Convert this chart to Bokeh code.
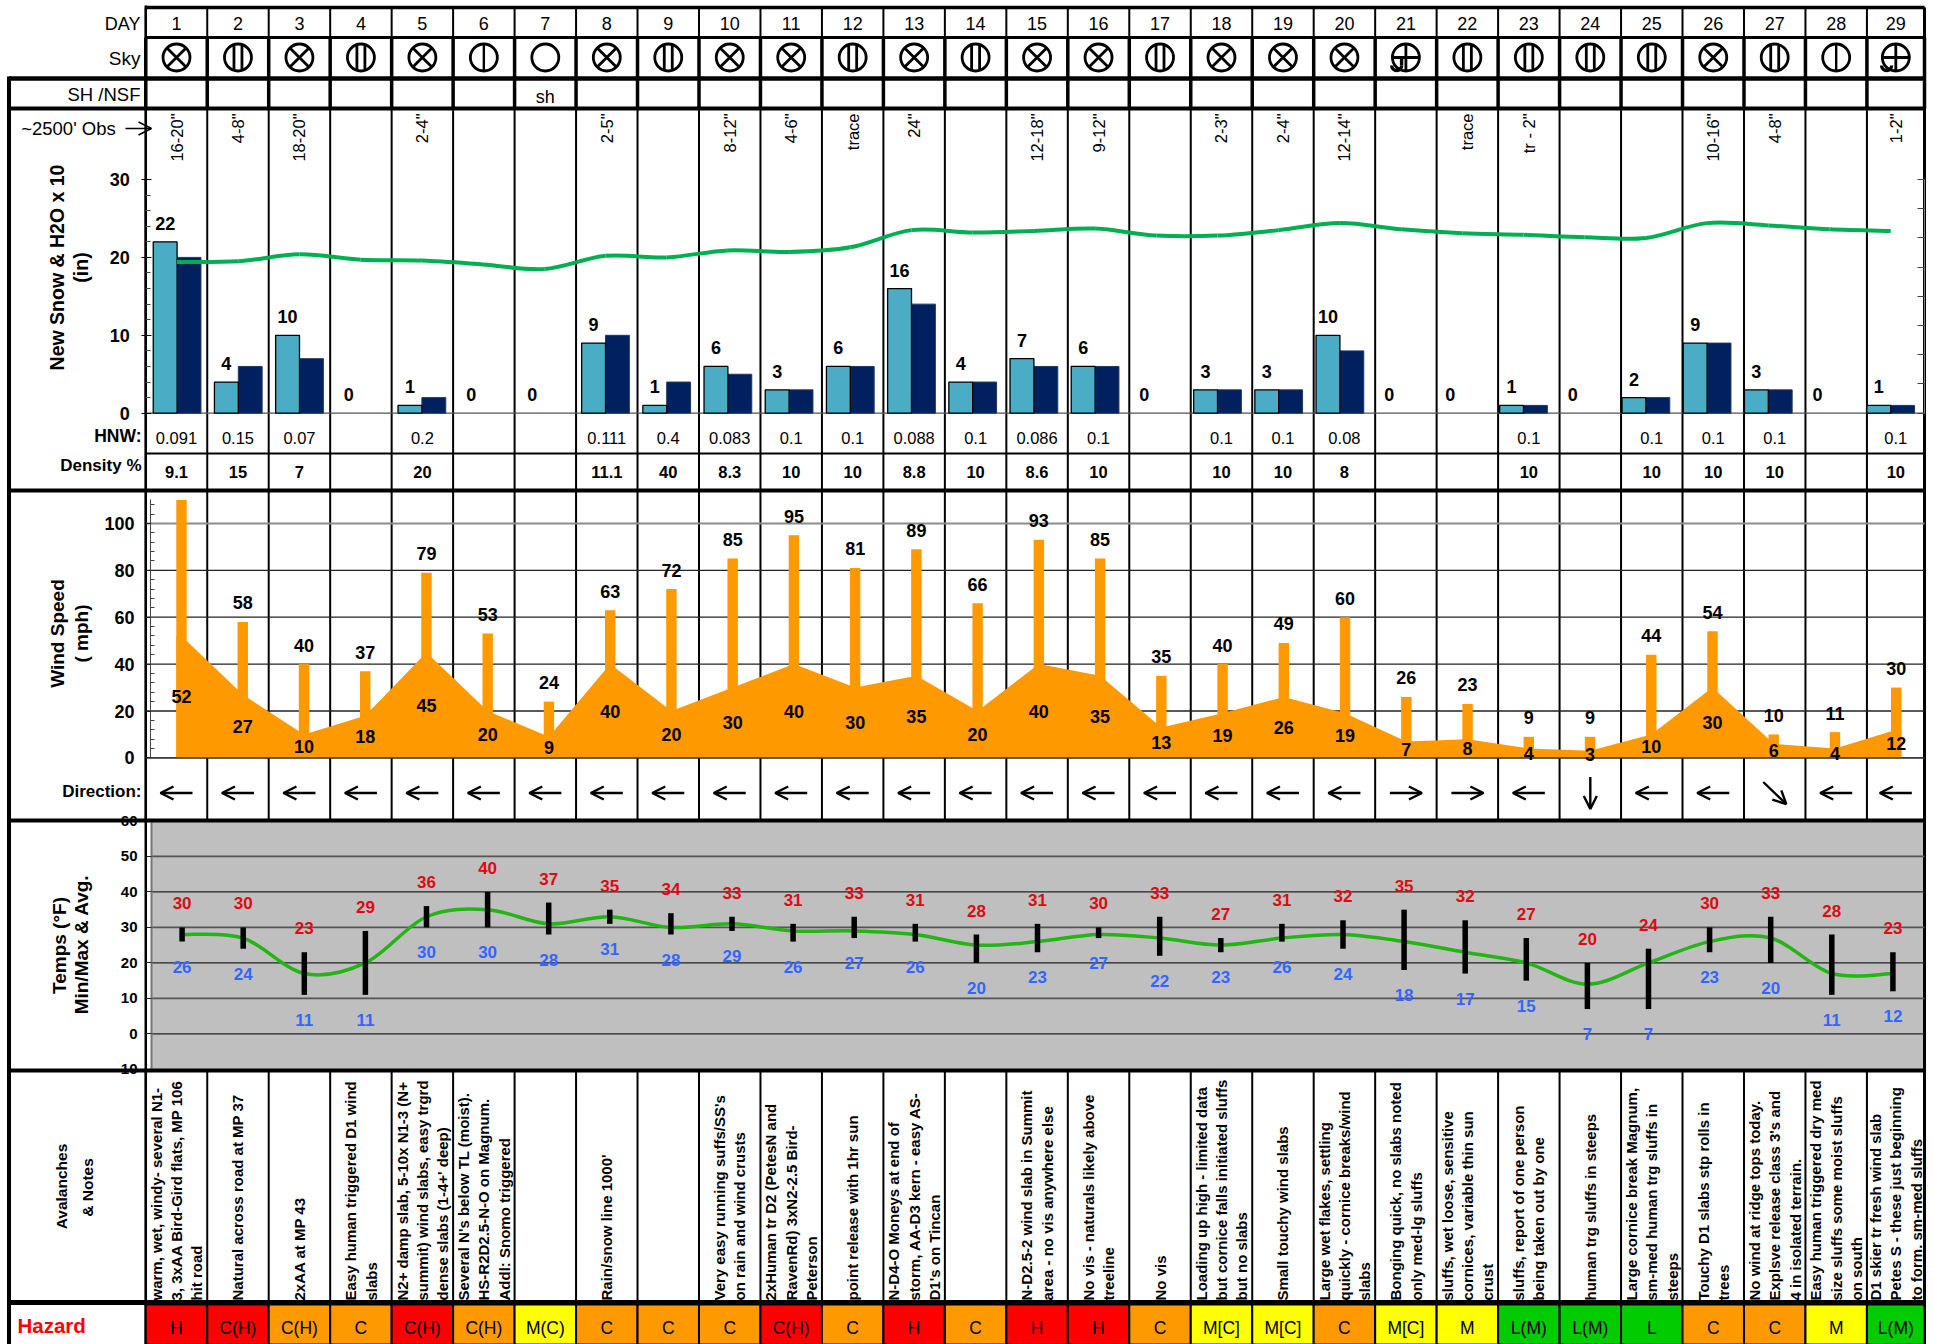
import numpy as np
from bokeh.plotting import figure
from bokeh.embed import file_html
from bokeh.resources import INLINE
from bokeh.core.properties import value
from bokeh.models import Range1d, LinearAxis, FixedTicker, Arrow, OpenHead, ColumnDataSource

# ---------- data ----------
day_numbers = list(range(1, 30))
sky_cover = ["X","III","X","III","X","I","O","X","III","X","X","III","X","III","X","X","III","X","X","X",
             "+","III","III","III","III","X","III","I","+"]
sh_nsf = {7: "sh"}
obs_2500 = {1:'16-20"',2:'4-8"',3:'18-20"',5:'2-4"',8:'2-5"',10:'8-12"',11:'4-6"',12:'trace',13:'24"',
            15:'12-18"',16:'9-12"',18:'2-3"',19:'2-4"',20:'12-14"',22:'trace',23:'tr - 2"',26:'10-16"',27:'4-8"',29:'1-2"'}
new_snow = [22,4,10,0,1,0,0,9,1,6,3,6,16,4,7,6,0,3,3,10,0,0,1,0,2,9,3,0,1]
h2o_x10  = [20,6,7,0,2,0,0,10,4,5,3,6,14,4,6,6,0,3,3,8,0,0,1,0,2,9,3,0,1]
snow_depth_line = [19.4,19.5,20.4,19.7,19.6,19.1,18.5,20.2,20.0,20.9,20.7,21.3,23.5,23.2,23.4,23.7,22.8,22.8,
                   23.5,24.4,23.6,23.1,22.9,22.6,22.5,24.4,24.1,23.6,23.4]
hnw = ["0.091","0.15","0.07","","0.2","","","0.111","0.4","0.083","0.1","0.1","0.088","0.1","0.086","0.1","",
       "0.1","0.1","0.08","","","0.1","","0.1","0.1","0.1","","0.1"]
density = ["9.1","15","7","","20","","","11.1","40","8.3","10","10","8.8","10","8.6","10","",
           "10","10","8","","","10","","10","10","10","","10"]
wind_gust = [110,58,40,37,79,53,24,63,72,85,95,81,89,66,93,85,35,40,49,60,26,23,9,9,44,54,10,11,30]
wind_avg  = [52,27,10,18,45,20,9,40,20,30,40,30,35,20,40,35,13,19,26,19,7,8,4,3,10,30,6,4,12]
wind_dir = ["W"]*20 + ["E","E","W","S","W","W","SE","W","W"]
temp_max = [30,30,23,29,36,40,37,35,34,33,31,33,31,28,31,30,33,27,31,32,35,32,27,20,24,30,33,28,23]
temp_min = [26,24,11,11,30,30,28,31,28,29,26,27,26,20,23,27,22,23,26,24,18,17,15,7,7,23,20,11,12]
temp_avg = [28,27,17,20,33,35,31,33,30,31,29,29,28,25,26,28,27,25,27,28,26,23,20,14,20,26,27,17,17]
notes = [
 ["warm, wet, windy- several N1-","3, 3xAA Bird-Gird flats, MP 106","hit road"],
 ["Natural across road at MP 37"],
 ["2xAA at MP 43"],
 ["Easy human triggered D1 wind","slabs"],
 ["N2+ damp slab, 5-10x N1-3 (N+","summit) wind slabs, easy trgrd","dense slabs (1-4+' deep)"],
 ["Several N's below TL (moist).","HS-R2D2.5-N-O on Magnum.","Addl: Snomo triggered"],
 [],
 ["Rain/snow line 1000'"],
 [],
 ["Very easy running suffs/SS's","on rain and wind crusts"],
 ["2xHuman tr D2 (PetesN and","RavenRd) 3xN2-2.5 Bird-","Peterson"],
 ["point release with 1hr sun"],
 ["N-D4-O Moneys at end of","storm, AA-D3 kern - easy AS-","D1's on Tincan"],
 [],
 ["N-D2.5-2 wind slab in Summit","area - no vis anywhere else"],
 ["No vis - naturals likely above","treeline"],
 ["No vis"],
 ["Loading up high - limited data","but cornice falls initiated sluffs","but no slabs"],
 ["Small touchy wind slabs"],
 ["Large wet flakes, settling","quickly - cornice breaks/wind","slabs"],
 ["Bonging quick, no slabs noted","only med-lg sluffs"],
 ["sluffs, wet loose, sensitive","cornices, variable thin sun","crust"],
 ["sluffs, report of one person","being taken out by one"],
 ["human trg sluffs in steeps"],
 ["Large cornice break Magnum,","sm-med human trg sluffs in","steeps"],
 ["Touchy D1 slabs stp rolls in","trees"],
 ["No wind at ridge tops today.","Explsve release class 3's and","4 in isolated terrain."],
 ["Easy human triggered dry med","size sluffs some moist sluffs","on south"],
 ["D1 skier tr fresh wind slab","Petes S - these just beginning","to form. sm-med sluffs"],
]
hazard = ["H","C(H)","C(H)","C","C(H)","C(H)","M(C)","C","C","C","C(H)","C","H","C","H","H","C","M[C]","M[C]",
          "C","M[C]","M","L(M)","L(M)","L","C","C","M","L(M)"]
hazard_level = ["red","red","org","org","red","org","yel","org","org","org","red","org","red","org","red","red",
                "org","yel","yel","org","yel","yel","grn","grn","grn","org","org","yel","grn"]
snow_ticks = [0,10,20,30]
snow_minor = [2,4,6,8,12,14,16,18,22,24,26,28]
snow_right_ticks = [0,3.75,7.5,11.25,15,18.75,22.5,26.25,30]
wind_ticks = [0,20,40,60,80,100]
wind_minor = [4,8,12,16,24,28,32,36,44,48,52,56,64,68,72,76,84,88,92,96,104,108]
temp_ticks = [-10,0,10,20,30,40,50,60]
temp_grid = [0,10,20,30,40,50]

# ---------- layout ----------
W, H = 1933, 1344
ORG = 0
FONT = value("Liberation Sans")
TOP, BOT = ORG, ORG + H
def xrange_for(c1, step):
    return Range1d(1 + (ORG - c1) / step, 1 + (ORG + W - c1) / step)
def yrange_for(zero, k):
    return Range1d((zero - BOT) / k, (zero - TOP) / k)

T_C, T_STEP = 176.0, 61.47
xpx = lambda px: 1 + (px - T_C) / T_STEP

p = figure(width=W, height=H, output_backend="svg", toolbar_location=None, x_axis_type=None, y_axis_type=None,
           x_range=xrange_for(T_C, T_STEP), y_range=Range1d(BOT, TOP), min_border=0, outline_line_color=None,
           background_fill_color="white", border_fill_color="white")
p.extra_x_ranges = {"snowx": xrange_for(176.6, 61.2), "windx": xrange_for(181.0, 61.24), "tempx": xrange_for(181.6, 61.1)}
p.extra_y_ranges = {"snow": yrange_for(412.7, 7.79), "wind": yrange_for(757.4, 2.345), "temp": yrange_for(1033.4, 3.55),
                    "snowr": yrange_for(412.7, 7.79)}

days = np.array(day_numbers, dtype=float)
xc = days.copy(); xc[-1] -= 0.03     # last column is a little narrower
R_EDGE = xpx(1924)
L_EDGE = xpx(8.5)
C_EDGE = days[0] - 0.5
line_x = np.append(days - 0.5, R_EDGE)

def txt(xs, ys, labels, size, bold=False, color="black", align="center", **kw):
    p.text(x=list(xs), y=list(ys), text=list(labels), text_font=FONT, text_font_size=size,
           text_font_style="bold" if bold else "normal", text_color=color, text_align=align,
           text_baseline="middle", **kw)

def smooth(x, y):
    x = np.asarray(x, float); y = np.asarray(y, float)
    xm = np.r_[x[0], x, x[-1]]; ym = np.r_[y[0], y, y[-1]]
    cx0 = x[:-1] + (xm[2:-1] - xm[:-3]) / 6; cy0 = y[:-1] + (ym[2:-1] - ym[:-3]) / 6
    cx1 = x[1:] - (xm[3:] - xm[1:-2]) / 6;   cy1 = y[1:] - (ym[3:] - ym[1:-2]) / 6
    return dict(x0=x[:-1], y0=y[:-1], x1=x[1:], y1=y[1:], cx0=cx0, cy0=cy0, cx1=cx1, cy1=cy1)

# ---------- temps background ----------
p.quad(left=[xpx(151)], right=[R_EDGE], top=[820], bottom=[1069], fill_color="#BFBFBF", line_color=None)

# ---------- column rules ----------
p.segment(line_x, [7]*30, line_x, [37]*30, line_color="black", line_width=2)
p.segment(line_x, [37]*30, line_x, [108]*30, line_color="black", line_width=3.5)
p.segment(line_x, [108]*30, line_x, [490]*30, line_color="black", line_width=2)
p.segment(line_x, [490]*30, line_x, [820]*30, line_color="black", line_width=2)
p.segment(line_x, [1070]*30, line_x, [1344]*30, line_color="black", line_width=2)
p.segment([C_EDGE], [5], [C_EDGE], [1344], line_color="black", line_width=2.5)
p.segment([R_EDGE], [7], [R_EDGE], [1344], line_color="black", line_width=3)
p.segment([L_EDGE], [76], [L_EDGE], [1344], line_color="black", line_width=4)

# ---------- header rows ----------
txt(xc, [23]*29, [str(d) for d in day_numbers], "18px")
txt([xpx(140)], [23], ["DAY"], "18px", align="right")
txt([xpx(140)], [58], ["Sky"], "19px", align="right")
txt([xpx(140)], [94], ["SH /NSF"], "18.5px", align="right")
txt([xc[d-1] for d in sh_nsf], [96]*len(sh_nsf), list(sh_nsf.values()), "18px")
txt([xpx(20.7)], [128], ["~2500' Obs"], "18.5px", align="left")
p.add_layout(Arrow(end=OpenHead(size=13, line_width=1.4), x_start=xpx(125), y_start=128, x_end=xpx(151), y_end=128,
                   line_width=1.4, line_color="black"))

sky = np.array(sky_cover)
SKY_Y = 57
sky_marker = {"X": "circle_x", "+": "circle_cross", "O": "circle", "I": "circle", "III": "circle"}
p.scatter(x=xc, y=[SKY_Y]*29, size=27, marker=[sky_marker[s] for s in sky_cover], line_color="black",
          fill_color=None, line_width=2.8)
one = xc[sky == "I"]
p.segment(one, [SKY_Y-13]*len(one), one, [SKY_Y+13]*len(one), line_color="black", line_width=2.4)
three = xc[sky == "III"]
for off in (-0.065, 0.065):
    p.segment(three + off, [SKY_Y-12]*len(three), three + off, [SKY_Y+12]*len(three), line_color="black", line_width=2.8)
obsc = xc[sky == "+"]
p.arc(x=obsc - 0.15, y=[SKY_Y+8]*len(obsc), radius=5, radius_units="screen", start_angle=np.pi, end_angle=2*np.pi,
      line_color="black", line_width=3.4)
p.segment(obsc - 0.07, [SKY_Y], obsc - 0.07, [SKY_Y+8], line_color="black", line_width=3.4)

txt([xc[d-1] for d in obs_2500], [113]*len(obs_2500), list(obs_2500.values()), "16.5px", align="right", angle=np.pi/2)

# ---------- snow panel ----------
ns = np.array(new_snow, float); wx = np.array(h2o_x10, float)
m1 = ns > 0; m2 = wx > 0
BW = 0.39
p.segment([C_EDGE], [0], [R_EDGE], [0], y_range_name="snow", line_color="#555555", line_width=1.2)
p.vbar(x=days[m2] + BW/2, width=BW, top=wx[m2], bottom=0, x_range_name="snowx", y_range_name="snow",
       fill_color="#002060", line_color="#1F3864", line_width=1)
p.vbar(x=days[m1] - BW/2, width=BW, top=ns[m1], bottom=0, x_range_name="snowx", y_range_name="snow",
       fill_color="#4BACC6", line_color="black", line_width=1.3)
p.bezier(**smooth(days, snow_depth_line), x_range_name="snowx", y_range_name="snow", line_color="#00B050", line_width=4)
txt(days - BW/2, ns, [str(v) for v in new_snow], "18px", bold=True, x_range_name="snowx", y_range_name="snow", y_offset=-18.5)

a = LinearAxis(y_range_name="snow", ticker=FixedTicker(ticks=snow_ticks, minor_ticks=snow_minor), bounds=(0, 30),
               fixed_location=float(C_EDGE), major_tick_in=6, major_tick_out=4, minor_tick_in=5, minor_tick_out=0,
               major_label_standoff=12, major_label_text_font="Liberation Sans", major_label_text_font_size="18px",
               major_label_text_font_style="bold", major_label_text_color="black", axis_line_color="black",
               major_tick_line_color="black", minor_tick_line_color="#444444", axis_line_width=1.5)
p.add_layout(a, "left")
a = LinearAxis(y_range_name="snowr", ticker=FixedTicker(ticks=snow_right_ticks), bounds=(0, 30),
               fixed_location=float(R_EDGE), major_tick_in=7, major_tick_out=0, minor_tick_in=0, minor_tick_out=0,
               major_label_overrides={t: "" for t in snow_right_ticks},
               axis_line_color="#808080", major_tick_line_color="#444444")
p.add_layout(a, "right")

p.text(x=[xpx(56), xpx(80)], y=[267, 267], text=["New Snow & H2O x 10", "(in)"], text_font=FONT, text_font_size="19.5px",
       text_font_style="bold", text_align="center", text_baseline="middle", angle=np.pi/2)

p.segment([C_EDGE], [453], [R_EDGE], [453], line_color="black", line_width=2)
txt([xpx(141)], [435], ["HNW:"], "17.5px", bold=True, align="right")
txt([xpx(141)], [465], ["Density %"], "17px", bold=True, align="right")
hn = [(x, s) for x, s in zip(xc, hnw) if s]
txt([h[0] for h in hn], [437]*len(hn), [h[1] for h in hn], "16.5px")
de = [(x, s) for x, s in zip(xc, density) if s]
txt([d[0] for d in de], [471]*len(de), [d[1] for d in de], "16.5px", bold=True)

# ---------- wind panel ----------
gust = np.array(wind_gust, float); sust = np.array(wind_avg, float)
GW = 0.17
p.segment([xpx(146)]*6, wind_ticks, [R_EDGE]*6, wind_ticks, y_range_name="wind",
          line_color=["#222222"]*5 + ["#8C8C8C"], line_width=[1.3]*5 + [2])
ax = np.r_[days[0] - GW/2, days, days[-1] + GW/2]
ay = np.r_[sust[0], sust, sust[-1]]
p.varea(x=ax, y1=[0]*len(ax), y2=ay, x_range_name="windx", y_range_name="wind", fill_color="#FF9900")
p.vbar(x=days, width=GW, top=gust, bottom=0, x_range_name="windx", y_range_name="wind", fill_color="#FF9900", line_color=None)
p.segment([C_EDGE], [0], [R_EDGE], [0], y_range_name="wind", line_color="#333333", line_width=1.2)
txt(days[1:], gust[1:], [str(v) for v in wind_gust[1:]], "18px", bold=True, x_range_name="windx", y_range_name="wind", y_offset=-19)
txt(days, sust / 2, [str(v) for v in wind_avg], "18px", bold=True, x_range_name="windx", y_range_name="wind")

a = LinearAxis(y_range_name="wind", ticker=FixedTicker(ticks=wind_ticks, minor_ticks=wind_minor), bounds=(0, 110),
               fixed_location=xpx(150), major_tick_in=0, major_tick_out=5, minor_tick_in=4, minor_tick_out=0,
               major_label_standoff=11, major_label_text_font="Liberation Sans", major_label_text_font_size="18px",
               major_label_text_font_style="bold", major_label_text_color="black", axis_line_color="#444444",
               major_tick_line_color="#222222", minor_tick_line_color="#444444")
p.add_layout(a, "left")
p.text(x=[xpx(57), xpx(81)], y=[633, 633], text=["Wind Speed", "( mph)"], text_font=FONT, text_font_size="19px",
       text_font_style="bold", text_align="center", text_baseline="middle", angle=np.pi/2)
txt([xpx(141)], [791], ["Direction:"], "17px", bold=True, align="right")

DIR_VEC = {"W": (-16, 0), "E": (16, 0), "S": (0, 16), "SE": (11.5, 11)}
vx = np.array([DIR_VEC[d][0] for d in wind_dir], float) / T_STEP
vy = np.array([DIR_VEC[d][1] for d in wind_dir], float)
src = ColumnDataSource(dict(xs=xc - vx, xe=xc + vx, ys=792.5 - vy, ye=792.5 + vy))
p.add_layout(Arrow(end=OpenHead(size=13, line_width=2.4), source=src, x_start="xs", y_start="ys", x_end="xe", y_end="ye",
                   line_width=2.4, line_color="black"))

# ---------- temps panel ----------
p.segment([xpx(151)]*6, temp_grid, [R_EDGE]*6, temp_grid, y_range_name="temp",
          line_color=["#222222", "#555555", "#222222", "#555555", "#222222", "#555555"],
          line_width=[1.2, 1.8, 1.2, 1.8, 1.2, 1.8])
tmax = np.array(temp_max, float); tmin = np.array(temp_min, float)
p.bezier(**smooth(days, temp_avg), x_range_name="tempx", y_range_name="temp", line_color="#22B514", line_width=3.5)
p.vbar(x=days, width=0.09, top=tmax, bottom=tmin, x_range_name="tempx", y_range_name="temp", fill_color="black", line_color=None)
txt(days, tmax, [str(v) for v in temp_max], "17px", bold=True, color="#DD0A12", x_range_name="tempx", y_range_name="temp", y_offset=-24)
txt(days, tmin, [str(v) for v in temp_min], "17px", bold=True, color="#3366FF", x_range_name="tempx", y_range_name="temp", y_offset=25)

a = LinearAxis(y_range_name="temp", ticker=FixedTicker(ticks=temp_ticks, minor_ticks=[]), bounds=(-10, 60),
               fixed_location=xpx(151), major_tick_in=0, major_tick_out=5, minor_tick_in=0, minor_tick_out=0,
               major_label_standoff=9, major_label_text_font="Liberation Sans", major_label_text_font_size="15px",
               major_label_text_font_style="bold", major_label_text_color="black", axis_line_color="#777777",
               axis_line_width=2, major_tick_line_color="#222222", major_label_overrides={-10: "10"})
p.add_layout(a, "left")
p.text(x=[xpx(59), xpx(81)], y=[945, 944], text=["Temps (°F)", "Min/Max & Avg."], text_font=FONT, text_font_size="19px",
       text_font_style="bold", text_align="center", text_baseline="middle", angle=np.pi/2)

# ---------- notes ----------
nx, ny, nt, no = [], [], [], []
for x, lines in zip(xc, notes):
    n = len(lines)
    for i, s in enumerate(lines):
        nx.append(x); ny.append(1300); nt.append(s); no.append((i - (n - 1) / 2) * 20.3)
p.text(x=nx, y=ny, text=nt, x_offset=no, text_font=FONT, text_font_size="15px", text_font_style="bold",
       text_align="left", text_baseline="middle", angle=np.pi/2)
p.text(x=[xpx(61), xpx(87)], y=[1186, 1187], text=["Avalanches", "& Notes"], text_font=FONT, text_font_size="15.5px",
       text_font_style="bold", text_align="center", text_baseline="middle", angle=np.pi/2)

# ---------- hazard ----------
LEVEL_COLOR = {"red": "#FF0000", "org": "#FF9900", "yel": "#FFFF00", "grn": "#00CC00"}
p.quad(left=days - 0.5, right=np.minimum(days + 0.5, R_EDGE), top=[1304]*29, bottom=[1344]*29,
       fill_color=[LEVEL_COLOR[h] for h in hazard_level], line_color="black", line_width=2)
txt(xc, [1327]*29, hazard, "17.5px")
txt([xpx(17)], [1325], ["Hazard"], "20.5px", bold=True, color="#FF0000", align="left")

# ---------- thick horizontal rules, above everything ----------
HY = [78, 108, 490, 820, 1070, 1302]; HW = [4.5, 4, 4, 4, 4, 5]
p.segment([L_EDGE]*6, HY, [R_EDGE]*6, HY, line_color="black", line_width=HW, level="overlay")
p.segment([C_EDGE, C_EDGE], [7, 37], [R_EDGE, R_EDGE], [7, 37], line_color="black", line_width=[3.5, 3], level="overlay")

open("out.html", "w").write(file_html(p, INLINE))
